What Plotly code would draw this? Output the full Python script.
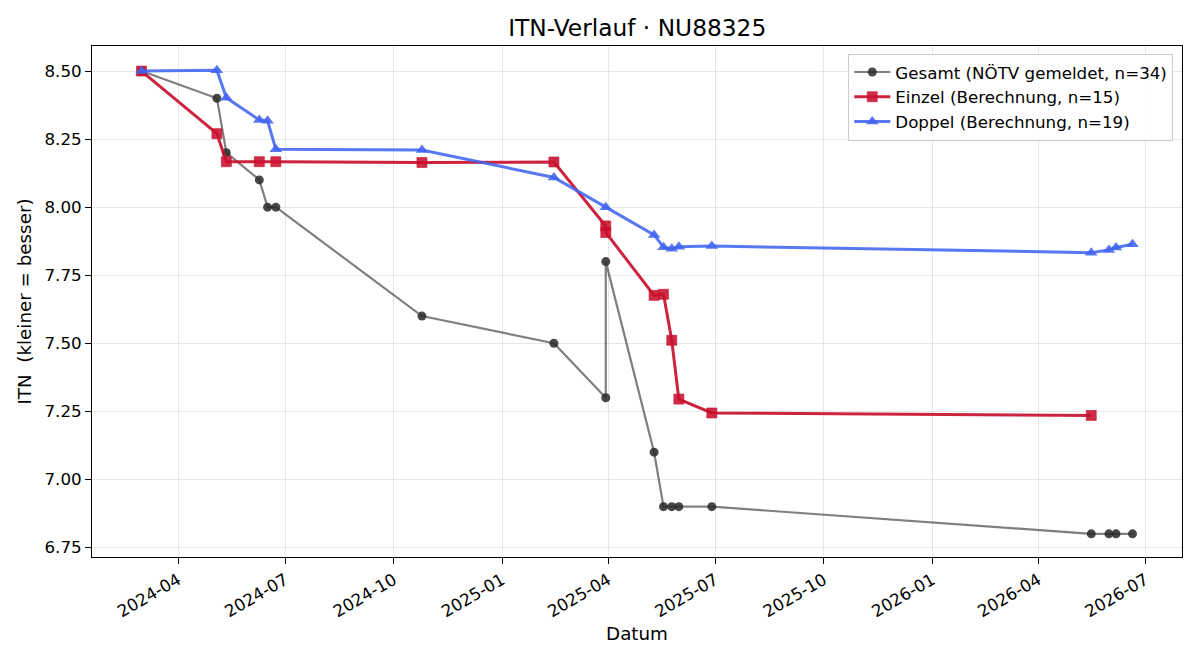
import plotly.graph_objects as go

# ---- data ----
dates_gesamt = ["2024-03-01", "2024-05-04", "2024-05-12", "2024-06-09", "2024-06-16",
                "2024-06-23", "2024-10-25", "2025-02-14", "2025-03-30", "2025-03-30",
                "2025-05-10", "2025-05-18", "2025-05-25", "2025-05-31", "2025-06-28",
                "2026-05-16", "2026-05-31", "2026-06-06", "2026-06-20"]
itn_gesamt = [8.5, 8.4, 8.2, 8.1, 8.0, 8.0, 7.6, 7.5, 7.3, 7.8,
              7.1, 6.9, 6.9, 6.9, 6.9, 6.8, 6.8, 6.8, 6.8]

dates_einzel = ["2024-03-01", "2024-05-04", "2024-05-12", "2024-06-09", "2024-06-23",
                "2024-10-25", "2025-02-14", "2025-03-30", "2025-03-30", "2025-05-10",
                "2025-05-18", "2025-05-25", "2025-05-31", "2025-06-28", "2026-05-16"]
itn_einzel = [8.50, 8.27, 8.167, 8.167, 8.167, 8.164, 8.166, 7.931, 7.907, 7.676,
              7.68, 7.511, 7.295, 7.244, 7.235]

dates_doppel = ["2024-03-01", "2024-05-04", "2024-05-12", "2024-06-09", "2024-06-16",
                "2024-06-23", "2024-10-25", "2025-02-14", "2025-03-30", "2025-05-10",
                "2025-05-18", "2025-05-25", "2025-05-31", "2025-06-28", "2026-05-16",
                "2026-05-31", "2026-06-06", "2026-06-20"]
itn_doppel = [8.50, 8.503, 8.402, 8.32, 8.317, 8.213, 8.21, 8.109, 8.0, 7.898,
              7.853, 7.847, 7.855, 7.857, 7.833, 7.843, 7.852, 7.864]

y_ticks = [6.75, 7.00, 7.25, 7.50, 7.75, 8.00, 8.25, 8.50]

FONT = "DejaVu Sans"

fig = go.Figure()
fig.add_trace(go.Scatter(
    x=dates_gesamt, y=itn_gesamt, mode="lines+markers",
    name="Gesamt (NÖTV gemeldet, n=34)",
    line=dict(color="rgba(0,0,0,0.5)", width=2.2),
    marker=dict(symbol="circle", size=9, color="rgba(40,40,40,0.85)",
                line=dict(width=0)),
))
fig.add_trace(go.Scatter(
    x=dates_einzel, y=itn_einzel, mode="lines+markers",
    name="Einzel (Berechnung, n=15)",
    line=dict(color="rgba(200,16,46,0.92)", width=3),
    marker=dict(symbol="square", size=10, color="rgba(200,16,46,0.88)",
                line=dict(width=1, color="rgba(200,16,46,0.6)")),
))
fig.add_trace(go.Scatter(
    x=dates_doppel, y=itn_doppel, mode="lines+markers",
    name="Doppel (Berechnung, n=19)",
    line=dict(color="rgba(65,100,240,0.88)", width=3),
    marker=dict(symbol="triangle-up", size=11, color="rgba(65,100,240,0.88)",
                line=dict(width=0)),
))

fig.update_layout(
    width=1200, height=660,
    margin=dict(l=92, r=18, t=46, b=103),
    paper_bgcolor="white", plot_bgcolor="white",
    font=dict(family=FONT, size=16.7, color="black"),
    title=dict(text="ITN-Verlauf · NU88325", x=0.531, xanchor="center",
               y=1 - 28 / 660, yanchor="middle",
               font=dict(family=FONT, size=23.3, color="black")),
    legend=dict(x=0.992, y=0.985, xanchor="right", yanchor="top",
                bgcolor="rgba(255,255,255,0.85)", bordercolor="#cccccc",
                borderwidth=1, font=dict(family=FONT, size=16.7),
                itemwidth=36, tracegroupgap=0),
    showlegend=True,
)

fig.update_xaxes(
    type="date", range=["2024-01-19", "2026-08-01"],
    tick0="2024-01-01", dtick="M3", tickformat="%Y-%m", tickangle=-30,
    showgrid=True, gridcolor="rgba(176,176,176,0.3)", gridwidth=1,
    showline=True, linecolor="black", linewidth=1, mirror=True,
    ticks="outside", ticklen=6, tickcolor="black",
    tickfont=dict(family=FONT, size=16.7),
    title=dict(text="Datum", font=dict(family=FONT, size=18.3), standoff=6),
    zeroline=False,
)
fig.update_yaxes(
    range=[6.715, 8.592],
    tickvals=y_ticks, tickformat=".2f",
    showgrid=True, gridcolor="rgba(176,176,176,0.3)", gridwidth=1,
    showline=True, linecolor="black", linewidth=1, mirror=True,
    ticks="outside", ticklen=6, tickcolor="black",
    tickfont=dict(family=FONT, size=16.7),
    title=dict(text="ITN\u00a0\u00a0(kleiner = besser)", font=dict(family=FONT, size=18.3),
               standoff=8),
    zeroline=False,
)

fig.write_html("out.html")
